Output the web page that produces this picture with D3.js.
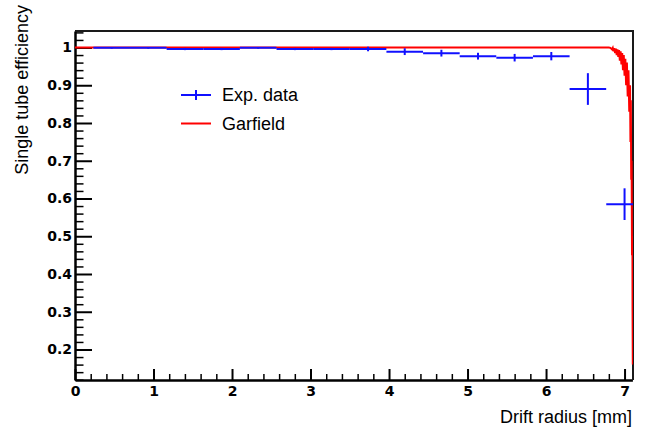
<!DOCTYPE html>
<html>
<head>
<meta charset="utf-8">
<script src="https://cdn.jsdelivr.net/npm/d3@7"></script>
<style>
  body { margin: 0; background: #fff; }
  .tick text { font-family: "DejaVu Sans", sans-serif; font-weight: bold; font-size: 14px; fill: #000; }
  .title { font-family: "Liberation Sans", Arial, sans-serif; font-size: 18px; fill: #000; }
</style>
</head>
<body>
<svg id="chart" width="645" height="429"></svg>
<script>
// Experimental data (bin centres, half widths, efficiency, errors)
var expX = [0.467, 0.933, 1.4, 1.867, 2.333, 2.8, 3.267, 3.733, 4.2, 4.667, 5.133, 5.6, 6.067, 6.533, 7.0];
var expXErr = [0.233, 0.233, 0.233, 0.233, 0.233, 0.233, 0.233, 0.233, 0.233, 0.233, 0.233, 0.233, 0.233, 0.233, 0.233];
var expY = [0.999, 0.999, 0.996, 0.996, 0.999, 0.996, 0.996, 0.996, 0.989, 0.985, 0.977, 0.973, 0.977, 0.890, 0.585];
var expYErr = [0.002, 0.002, 0.003, 0.003, 0.002, 0.003, 0.003, 0.006, 0.009, 0.009, 0.009, 0.010, 0.011, 0.042, 0.042];

// Garfield simulation (noisy near the tube wall)
var garX = [0, 6.80, 6.82, 6.84, 6.85, 6.86, 6.87, 6.88, 6.89, 6.90, 6.91, 6.92, 6.93, 6.94, 6.95, 6.96, 6.97, 6.98, 6.99, 7.00,
            7.01, 7.02, 7.03, 7.04, 7.05, 7.06, 7.07, 7.075, 7.08, 7.085, 7.09, 7.095, 7.10, 7.102, 7.105];
var garY = [1.0, 1.0, 0.999, 0.995, 0.999, 0.990, 0.998, 0.985, 0.997, 0.980, 0.995, 0.975, 0.993, 0.965, 0.990, 0.955, 0.985, 0.940, 0.980, 0.925,
            0.970, 0.900, 0.960, 0.870, 0.940, 0.830, 0.900, 0.750, 0.860, 0.650, 0.700, 0.450, 0.500, 0.300, 0.160];

var xMajor = [0, 1, 2, 3, 4, 5, 6, 7];
var yMajor = [0.2, 0.3, 0.4, 0.5, 0.6, 0.7, 0.8, 0.9, 1.0];

var margin = {top: 31, right: 12, bottom: 49, left: 75},
    width = 645 - margin.left - margin.right,
    height = 429 - margin.top - margin.bottom;

var svg = d3.select("#chart");
var g = svg.append("g").attr("transform", "translate(" + margin.left + "," + margin.top + ")");

var x = d3.scaleLinear().domain([0, 7.1]).range([0, 557.4]);
var y = d3.scaleLinear().domain([0.1192, 1.0437]).range([height, 0]);

g.append("clipPath").attr("id", "frame")
  .append("rect").attr("width", width).attr("height", height);

// minor ticks
var xMinor = d3.range(0, 7.11, 0.2).filter(function(v) { return Math.abs(v - Math.round(v)) > 1e-6; });
var yMinor = d3.range(0.12, 1.044, 0.02).filter(function(v) { return Math.abs(v * 10 - Math.round(v * 10)) > 1e-6; });

g.append("g").attr("transform", "translate(0," + height + ")")
  .call(d3.axisBottom(x).tickValues(xMinor).tickSize(-6).tickFormat(""))
  .call(function(a) { a.select(".domain").remove(); a.selectAll("line").attr("stroke-width", 1.5); });
g.append("g")
  .call(d3.axisLeft(y).tickValues(yMinor).tickSize(-8.5).tickFormat(""))
  .call(function(a) { a.select(".domain").remove(); a.selectAll("line").attr("stroke-width", 1.5); });

// major axes
g.append("g").attr("transform", "translate(0," + height + ")")
  .call(d3.axisBottom(x).tickValues(xMajor).tickSize(-11).tickSizeOuter(0).tickPadding(6).tickFormat(d3.format("d")))
  .call(function(a) { a.select(".domain").attr("stroke-width", 2.5); a.selectAll("line").attr("stroke-width", 2); a.selectAll("text").attr("dy", "0.71em"); });
g.append("g")
  .call(d3.axisLeft(y).tickValues(yMajor).tickSize(-17).tickSizeOuter(0).tickPadding(3)
    .tickFormat(function(d) { return d === 1 ? "1" : d3.format(".1f")(d); }))
  .call(function(a) { a.select(".domain").attr("stroke-width", 2.5); a.selectAll("line").attr("stroke-width", 2); });

// frame top and right
g.append("path")
  .attr("d", "M0,0H" + width + "V" + height)
  .attr("fill", "none").attr("stroke", "#1a1a1a").attr("stroke-width", 2);

var plot = g.append("g").attr("clip-path", "url(#frame)");

// Garfield line
var line = d3.line().x(function(d) { return x(d[0]); }).y(function(d) { return y(d[1]); });
plot.append("path")
  .datum(d3.zip(garX, garY))
  .attr("d", line)
  .attr("fill", "none").attr("stroke", "#ff0000").attr("stroke-width", 2);

// Experimental points with error bars
var pts = plot.selectAll(".pt").data(d3.range(expX.length)).enter().append("g").attr("class", "pt");
pts.append("line")
  .attr("x1", function(i) { return x(expX[i] - expXErr[i]); })
  .attr("x2", function(i) { return x(expX[i] + expXErr[i]); })
  .attr("y1", function(i) { return y(expY[i]); })
  .attr("y2", function(i) { return y(expY[i]); })
  .attr("stroke", "#1010ff").attr("stroke-width", 2);
pts.append("line")
  .attr("x1", function(i) { return x(expX[i]); })
  .attr("x2", function(i) { return x(expX[i]); })
  .attr("y1", function(i) { return y(expY[i] - expYErr[i]); })
  .attr("y2", function(i) { return y(expY[i] + expYErr[i]); })
  .attr("stroke", "#1010ff").attr("stroke-width", 2);

// legend
var lg = svg.append("g");
lg.append("line").attr("x1", 181).attr("x2", 211).attr("y1", 95).attr("y2", 95).attr("stroke", "#1010ff").attr("stroke-width", 2);
lg.append("line").attr("x1", 196).attr("x2", 196).attr("y1", 90).attr("y2", 100).attr("stroke", "#1010ff").attr("stroke-width", 2);
lg.append("text").attr("class", "title").attr("x", 222).attr("y", 101).text("Exp. data");
lg.append("line").attr("x1", 181).attr("x2", 211).attr("y1", 123.5).attr("y2", 123.5).attr("stroke", "#ff0000").attr("stroke-width", 2);
lg.append("text").attr("class", "title").attr("x", 222).attr("y", 130).text("Garfield");

// axis titles
svg.append("text").attr("class", "title").attr("x", 632).attr("y", 423)
  .attr("text-anchor", "end").text("Drift radius [mm]");
svg.append("text").attr("class", "title")
  .attr("transform", "translate(28,5) rotate(-90)")
  .attr("text-anchor", "end").text("Single tube efficiency");
</script>
</body>
</html>
